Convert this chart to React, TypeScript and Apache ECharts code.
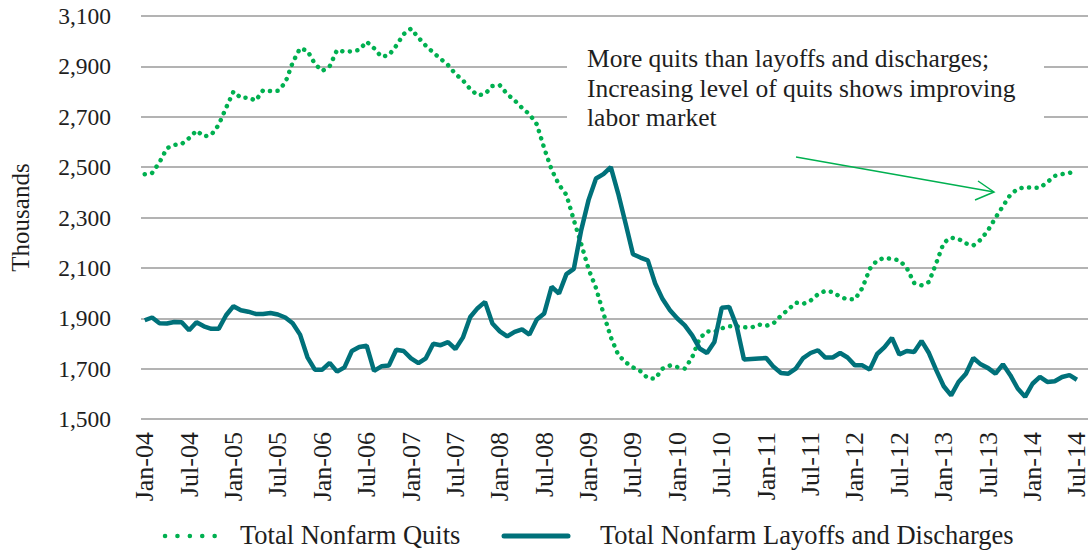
import React, { useEffect, useRef } from "react";
import * as echarts from "echarts";

const years = ["04", "05", "06", "07", "08", "09", "10", "11", "12", "13", "14"];
const monthNames = ["Jan", "Feb", "Mar", "Apr", "May", "Jun", "Jul", "Aug", "Sep", "Oct", "Nov", "Dec"];
const categories: string[] = [];
years.forEach((y) => monthNames.forEach((m) => categories.push(`${m}-${y}`)));
categories.splice(127); // Jan-04 .. Jul-14

const yTicks = [1500, 1700, 1900, 2100, 2300, 2500, 2700, 2900, 3100];

// Total Nonfarm Quits (thousands)
const quits = [
  2472, 2477, 2519, 2575, 2588, 2592, 2615, 2645, 2622, 2628, 2668, 2735,
  2800, 2775, 2776, 2764, 2805, 2802, 2803, 2835, 2915, 2972, 2962, 2910,
  2882, 2900, 2965, 2958, 2960, 2965, 2998, 2972, 2938, 2944, 2982, 3028,
  3050, 3014, 2982, 2955, 2930, 2905, 2870, 2845, 2810, 2785, 2790, 2822,
  2825, 2790, 2765, 2735, 2710, 2670, 2575, 2490, 2430, 2390, 2290, 2195,
  2095, 2020, 1920, 1825, 1755, 1725, 1705, 1690, 1662, 1660, 1700, 1712,
  1706, 1700, 1745, 1820, 1848, 1846, 1860, 1868, 1868, 1864, 1863, 1875,
  1870, 1880, 1910, 1935, 1962, 1957, 1970, 1995, 2009, 2004, 1985, 1975,
  1975, 2020, 2096, 2130, 2140, 2135, 2130, 2100, 2040, 2031, 2044, 2120,
  2200, 2220, 2215, 2197, 2189, 2212, 2250, 2299, 2345, 2390, 2414, 2420,
  2418, 2418, 2440, 2465, 2472, 2477, 2485,
];

// Total Nonfarm Layoffs and Discharges (thousands)
const layoffs = [
  1892, 1903, 1880, 1879, 1885, 1884, 1852, 1884, 1868, 1858, 1858, 1912,
  1948, 1932, 1926, 1917, 1917, 1921, 1915, 1903, 1880, 1835, 1745, 1696,
  1696, 1723, 1688, 1705, 1770, 1786, 1791, 1691, 1709, 1712, 1775, 1770,
  1741, 1722, 1741, 1799, 1793, 1805, 1778, 1823, 1905, 1940, 1965, 1879,
  1848, 1828, 1846, 1856, 1835, 1895, 1919, 2025, 1998, 2075, 2096, 2250,
  2370, 2455, 2472, 2500, 2395, 2276, 2154, 2141, 2130, 2038, 1976, 1932,
  1899, 1872, 1832, 1780, 1762, 1806, 1942, 1945, 1870, 1736, 1738, 1740,
  1742, 1707, 1683, 1680, 1700, 1742, 1762, 1773, 1744, 1744, 1762, 1744,
  1713, 1713, 1696, 1758, 1785, 1822, 1756, 1770, 1766, 1810, 1762, 1693,
  1630, 1594, 1647, 1680, 1742, 1717, 1702, 1680, 1717, 1674, 1621, 1588,
  1640, 1667, 1647, 1650, 1667, 1674, 1656,
];

const annotation = [
  "More quits than layoffs and discharges;",
  "Increasing level of quits shows improving",
  "labor market",
];

const legendNames = ["Total Nonfarm Quits", "Total Nonfarm Layoffs and Discharges"];

const FONT = "'Liberation Serif', 'DejaVu Serif', serif";
const GREEN = "#00B050";
const TEAL = "#00717A";
const TEXT = "#1e1e1e";

export default function App() {
  const ref = useRef<HTMLDivElement>(null);
  useEffect(() => {
    if (!ref.current) return;
    const chart = echarts.init(ref.current, null, { renderer: "svg" });
    chart.setOption({
      animation: false,
      textStyle: { fontFamily: FONT, color: TEXT },
      grid: { left: 136, right: 3, top: 16, bottom: 131, containLabel: false },
      xAxis: {
        type: "category",
        data: categories,
        boundaryGap: true,
        min: 0,
        max: categories.length, // one empty band after Jul-14, as in the reference
        axisLine: { show: false },
        axisTick: { show: false },
        axisLabel: {
          interval: 5,
          rotate: 90,
          fontSize: 26,
          color: TEXT,
          fontFamily: FONT,
          margin: 13,
          formatter: (v: string) => v ?? "",
        },
      },
      yAxis: {
        type: "value",
        min: yTicks[0],
        max: yTicks[yTicks.length - 1],
        interval: 200,
        name: "Thousands",
        nameLocation: "middle",
        nameGap: 108,
        nameRotate: 90,
        nameTextStyle: { fontSize: 25, color: TEXT, fontFamily: FONT },
        axisLine: { show: false },
        axisTick: { show: false },
        axisLabel: {
          fontSize: 23.5,
          color: TEXT,
          fontFamily: FONT,
          margin: 30,
          formatter: (v: number) => v.toLocaleString("en-US"),
        },
        splitLine: { lineStyle: { color: "#9a9a9a", width: 1.5 } },
      },
      series: [
        {
          name: legendNames[0],
          type: "line",
          data: quits,
          showSymbol: false,
          symbol: "none",
          lineStyle: { color: GREEN, width: 4.5, type: [0.1, 7.5], cap: "round" },
          itemStyle: { color: GREEN },
          z: 3,
        },
        {
          name: legendNames[1],
          type: "line",
          data: layoffs,
          showSymbol: false,
          symbol: "none",
          lineStyle: { color: TEAL, width: 4.5 },
          itemStyle: { color: TEAL },
          z: 4,
        },
      ],
      graphic: [
        {
          type: "rect",
          shape: { x: 567, y: 36, width: 477, height: 110 },
          style: { fill: "#ffffff" },
          z: 10,
        },
        {
          type: "text",
          x: 587,
          y: 44,
          z: 11,
          style: {
            text: annotation.join("\n"),
            font: `25.5px ${FONT}`,
            fill: TEXT,
            lineHeight: 29.5,
          },
        },
        {
          type: "line",
          z: 11,
          shape: { x1: 796, y1: 157, x2: 994, y2: 192 },
          style: { stroke: GREEN, lineWidth: 1.5 },
        },
        {
          type: "polyline",
          z: 11,
          shape: { points: [[978, 181], [994, 192], [975, 200]] },
          style: { stroke: GREEN, lineWidth: 1.5, fill: "none" },
        },
        // legend
        {
          type: "line",
          z: 11,
          shape: { x1: 165, y1: 536, x2: 227, y2: 536 },
          style: { stroke: GREEN, lineWidth: 4.5, lineDash: [0.1, 12.3], lineCap: "round" },
        },
        {
          type: "text",
          x: 240,
          y: 535,
          z: 11,
          style: { text: legendNames[0], font: `26.5px ${FONT}`, fill: TEXT, verticalAlign: "middle" },
        },
        {
          type: "line",
          z: 11,
          shape: { x1: 504, y1: 536, x2: 568, y2: 536 },
          style: { stroke: TEAL, lineWidth: 5, lineCap: "round" },
        },
        {
          type: "text",
          x: 600,
          y: 535,
          z: 11,
          style: { text: legendNames[1], font: `26.5px ${FONT}`, fill: TEXT, verticalAlign: "middle" },
        },
      ],
    });
    return () => chart.dispose();
  }, []);
  return <div ref={ref} style={{ width: 1091, height: 550, position: "absolute", left: 0, top: 0 }} />;
}
